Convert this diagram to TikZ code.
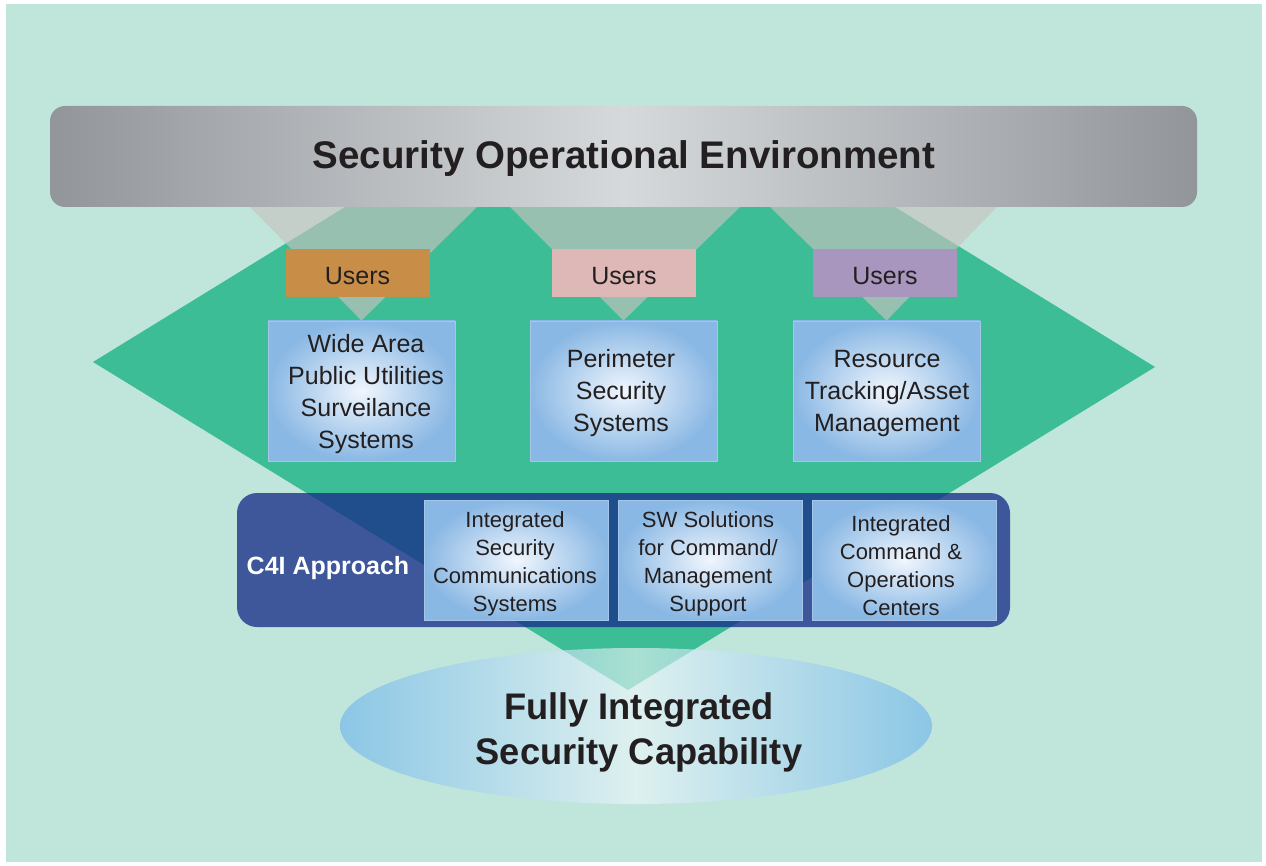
\documentclass[tikz,border=0pt]{standalone}
\usepackage{fontspec}
\setmainfont{Liberation Sans}
\usetikzlibrary{shapes.geometric}
\definecolor{mint}{RGB}{192,230,220}
\definecolor{dgreen}{RGB}{61,189,149}
\definecolor{trigray}{RGB}{200,195,192}
\definecolor{barmid}{RGB}{214,217,219}
\definecolor{baredge}{RGB}{146,149,154}
\definecolor{uorange}{RGB}{200,142,72}
\definecolor{upink}{RGB}{221,184,182}
\definecolor{upurple}{RGB}{168,150,190}
\definecolor{boxblue}{RGB}{138,184,228}
\definecolor{boxcenter}{RGB}{240,246,253}
\definecolor{boxedge}{RGB}{165,198,235}
\definecolor{c4iblue}{RGB}{24,44,136}
\definecolor{ellblue}{RGB}{105,178,236}
\definecolor{ellmid}{RGB}{242,248,252}
\definecolor{txt}{RGB}{35,31,32}
\pgfdeclarelayer{back}
\pgfdeclarelayer{mid}
\pgfsetlayers{back,mid,main}
\tikzset{
  usersbox/.style={minimum width=144pt, minimum height=48pt, inner sep=0pt},
  userstext/.style={text=txt, font=\fontsize{25}{30}\selectfont},
  sysbox/.style={minimum width=187pt, minimum height=140pt, inner sep=0pt,
    inner color=boxcenter, outer color=boxblue, draw=boxedge, line width=0.8pt},
  systext/.style={align=center, text=txt, font=\fontsize{25}{32}\selectfont},
  innerbox/.style={minimum width=184pt, minimum height=120pt, inner sep=0pt,
    inner color=boxcenter, outer color=boxblue, draw=boxedge, line width=0.8pt},
  innertext/.style={align=center, text=txt, font=\fontsize{22}{28}\selectfont},
  spot/.style={fill=trigray, fill opacity=0.65}
}
\begin{document}
\begin{tikzpicture}[x=1pt,y=-1pt]
\useasboundingbox (0,0) rectangle (1266,866);
\begin{pgfonlayer}{back}
  \fill[white] (0,0) rectangle (1266,866);
  \fill[mint] (6,4) rectangle (1262,862);
  \fill[dgreen] (93,362) -- (389,180) -- (851,180) -- (1155,367) -- (628,690) -- cycle;
\end{pgfonlayer}

% top bar
\node[rounded corners=15pt, minimum width=1147pt, minimum height=101pt, inner sep=0pt,
  left color=baredge, right color=baredge, middle color=barmid] (env) at (623.5,156.5) {};
\node[text=txt, font=\bfseries\fontsize{38.5}{40}\selectfont] (envtext) at (624,159)
  {Security Operational Environment};

% users
\node[usersbox, fill=uorange] (u1) at (357.5,273) {};
\node[usersbox, fill=upink] (u2) at (624,273) {};
\node[usersbox, fill=upurple] (u3) at (885,273) {};
\node[userstext] (u1t) at (357.5,276) {Users};
\node[userstext] (u2t) at (624,276) {Users};
\node[userstext] (u3t) at (885,276) {Users};

% systems
\node[sysbox] (s1) at (361.5,391) {};
\node[sysbox] (s2) at (623.5,391) {};
\node[sysbox] (s3) at (886.5,391) {};
\node[systext] (s1t) at (366,394) {Wide Area\\Public Utilities\\Surveilance\\Systems};
\node[systext] (s2t) at (621,393.5) {Perimeter\\Security\\Systems};
\node[systext] (s3t) at (887,393) {Resource\\Tracking/Asset\\Management};

\begin{pgfonlayer}{mid}
  \fill[spot] (250,207) -- (477,207) -- (s1.north) -- cycle;
  \fill[spot] (510,207) -- (740,207) -- (s2.north) -- cycle;
  \fill[spot] (770,207) -- (997,207) -- (s3.north) -- cycle;
\end{pgfonlayer}

% C4I bar
\node[rounded corners=20pt, minimum width=773pt, minimum height=134pt, inner sep=0pt,
  fill=c4iblue, fill opacity=0.77] (c4i) at (623.5,560) {};
\node[text=white, font=\bfseries\fontsize{25}{30}\selectfont] (c4ilabel) at (328,568) {C4I Approach};
\node[innerbox] (c1) at (516.5,560) {};
\node[innerbox] (c2) at (710,560) {};
\node[innerbox] (c3) at (904,560) {};
\node[innertext] (c1t) at (515,564) {Integrated\\Security\\Communications\\Systems};
\node[innertext] (c2t) at (708,564) {SW Solutions\\for Command/\\Management\\Support};
\node[innertext] (c3t) at (901,566) {Integrated\\Command \&\\Operations\\Centers};

% goal ellipse
\node[ellipse, minimum width=592pt, minimum height=156pt, inner sep=0pt,
  left color=ellblue, right color=ellblue, middle color=ellmid,
  fill opacity=0.6] (goal) at (636,726) {};
\node[align=center, text=txt, font=\bfseries\fontsize{37}{45}\selectfont,
  xscale=0.98] (goaltext) at (639,732) {Fully Integrated\\Security Capability};
\end{tikzpicture}
\end{document}
